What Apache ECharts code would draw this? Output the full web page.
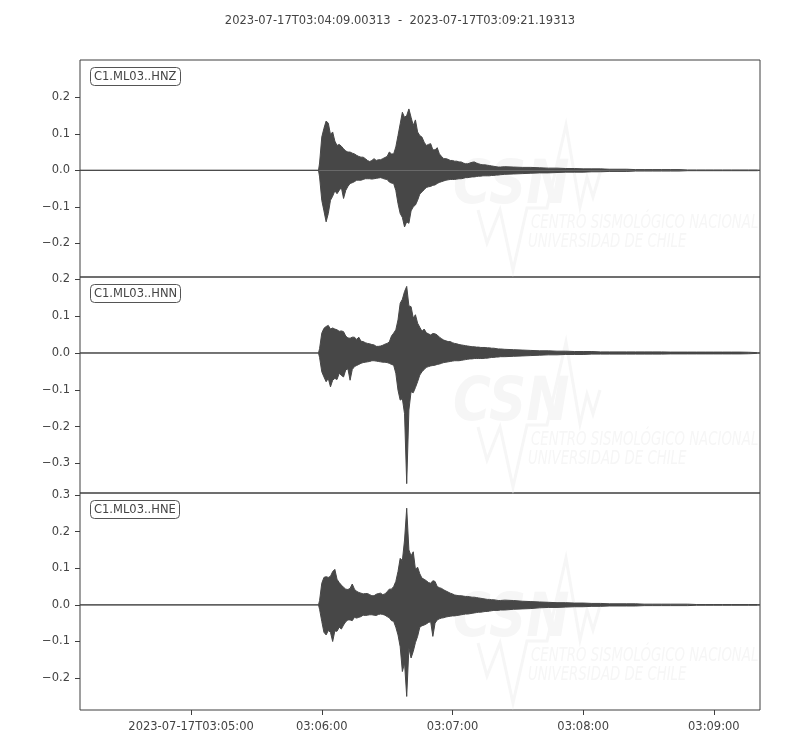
<!DOCTYPE html>
<html>
<head>
<meta charset="utf-8">
<script src="https://cdn.jsdelivr.net/npm/echarts@6/dist/echarts.min.js"></script>
<style>html,body{margin:0;padding:0;background:#fff;}#chart{width:800px;height:750px;}</style>
</head>
<body>
<div id="chart"></div>
<script>
// ---- data (seconds relative to 2023-07-17T03:06:00) ----
const titleText = '2023-07-17T03:04:09.00313  -  2023-07-17T03:09:21.19313';
const traceStartSec = -110.99687;
const traceEndSec = 201.19313;
const channelNames = ['C1.ML03..HNZ', 'C1.ML03..HNN', 'C1.ML03..HNE'];
const xTickSec = [-60, 0, 60, 120, 180];
const xTickLabels = ['2023-07-17T03:05:00', '03:06:00', '03:07:00', '03:08:00', '03:09:00'];
const yTicksZ = [-0.2, -0.1, 0.0, 0.1, 0.2];
const yTicksN = [-0.3, -0.2, -0.1, 0.0, 0.1, 0.2];
const yTicksE = [-0.2, -0.1, 0.0, 0.1, 0.2, 0.3];

// envelope sample times (s)
const sampleSec = [-1.5, -1,
  0, 1, 2, 3, 4, 5, 6, 7, 8, 9,
  10, 11, 12, 13, 14, 15, 16, 17, 18, 19,
  20, 21, 22, 23, 24, 25, 26, 27, 28, 29,
  30, 31, 32, 33, 34, 35, 36, 37, 38, 39,
  40, 41, 42, 43, 44, 45, 46, 47, 48, 49,
  50, 51, 52, 53, 54, 55, 56, 57, 58, 59,
  60, 61, 62, 63, 64, 65, 66, 67, 68, 69,
  70, 71, 72, 73, 74, 75, 76, 77, 78, 79,
  80, 81, 82,
  84, 88, 92, 96, 100, 104, 108, 112, 116, 120,
  124, 128, 132, 136, 140, 144, 148, 152, 156, 160,
  164, 168, 172, 176, 180, 184, 188, 192, 196, 200];

// HNZ envelope (upper / lower)
const upZ = [0, 0.020,
  0.091, 0.115, 0.135, 0.129, 0.098, 0.105, 0.080, 0.068, 0.071, 0.066,
  0.059, 0.053, 0.050, 0.050, 0.047, 0.045, 0.041, 0.038, 0.036, 0.036,
  0.032, 0.027, 0.024, 0.027, 0.032, 0.027, 0.029, 0.029, 0.032, 0.035,
  0.038, 0.050, 0.045, 0.045, 0.064, 0.095, 0.127, 0.159, 0.145, 0.150,
  0.168, 0.145, 0.123, 0.138, 0.105, 0.095, 0.091, 0.077, 0.068, 0.071,
  0.073, 0.056, 0.056, 0.062, 0.045, 0.038, 0.032, 0.032, 0.030, 0.027,
  0.027, 0.025, 0.025, 0.023, 0.023, 0.020, 0.018, 0.018, 0.020, 0.022,
  0.023, 0.020, 0.018, 0.016, 0.015, 0.015, 0.014, 0.013, 0.012, 0.011,
  0.010, 0.009, 0.009,
  0.010, 0.009, 0.008, 0.008, 0.007, 0.006, 0.006, 0.005, 0.005, 0.004,
  0.004, 0.004, 0.003, 0.003, 0.003, 0.002, 0.002, 0.002, 0.002, 0.002,
  0.002, 0.001, 0.001, 0.001, 0.001, 0.001, 0.001, 0.001, 0.001, 0.001];
const loZ = [0, -0.018,
  -0.082, -0.111, -0.141, -0.118, -0.082, -0.071, -0.056, -0.064, -0.055, -0.047,
  -0.077, -0.055, -0.044, -0.036, -0.034, -0.031, -0.027, -0.027, -0.027, -0.025,
  -0.023, -0.023, -0.023, -0.024, -0.023, -0.022, -0.021, -0.020, -0.022, -0.024,
  -0.025, -0.032, -0.035, -0.036, -0.055, -0.091, -0.118, -0.129, -0.155, -0.141,
  -0.145, -0.111, -0.100, -0.095, -0.082, -0.065, -0.059, -0.053, -0.047, -0.045,
  -0.044, -0.041, -0.040, -0.036, -0.033, -0.031, -0.029, -0.027, -0.026, -0.025,
  -0.025, -0.025, -0.024, -0.023, -0.023, -0.022, -0.020, -0.020, -0.019, -0.018,
  -0.018, -0.017, -0.016, -0.016, -0.015, -0.015, -0.015, -0.015, -0.014, -0.014,
  -0.013, -0.013, -0.012,
  -0.011, -0.010, -0.009, -0.008, -0.007, -0.007, -0.006, -0.005, -0.005, -0.005,
  -0.004, -0.004, -0.003, -0.003, -0.003, -0.002, -0.002, -0.002, -0.002, -0.002,
  -0.002, -0.001, -0.001, -0.001, -0.001, -0.001, -0.001, -0.001, -0.001, -0.001];

// HNN envelope
const upN = [0, 0.012,
  0.054, 0.067, 0.072, 0.075, 0.065, 0.068, 0.065, 0.063, 0.059, 0.060,
  0.058, 0.046, 0.041, 0.040, 0.043, 0.043, 0.037, 0.043, 0.032, 0.031,
  0.028, 0.026, 0.025, 0.023, 0.022, 0.018, 0.018, 0.019, 0.021, 0.024,
  0.026, 0.030, 0.046, 0.054, 0.063, 0.090, 0.135, 0.146, 0.167, 0.181,
  0.128, 0.126, 0.095, 0.104, 0.081, 0.070, 0.059, 0.065, 0.055, 0.052,
  0.049, 0.053, 0.052, 0.049, 0.043, 0.039, 0.035, 0.033, 0.031, 0.031,
  0.028, 0.026, 0.025, 0.023, 0.022, 0.021, 0.020, 0.019, 0.018, 0.017,
  0.017, 0.016, 0.016, 0.015, 0.015, 0.015, 0.014, 0.014, 0.013, 0.013,
  0.012, 0.011, 0.011,
  0.010, 0.009, 0.008, 0.007, 0.006, 0.006, 0.005, 0.005, 0.004, 0.004,
  0.004, 0.003, 0.003, 0.003, 0.003, 0.003, 0.003, 0.003, 0.003, 0.0025,
  0.0025, 0.0025, 0.0025, 0.0025, 0.0025, 0.0025, 0.0025, 0.0025, 0.002, 0.001];
const loN = [0, -0.012,
  -0.051, -0.065, -0.078, -0.069, -0.092, -0.074, -0.069, -0.072, -0.055, -0.061,
  -0.065, -0.046, -0.043, -0.074, -0.045, -0.037, -0.034, -0.031, -0.028, -0.026,
  -0.025, -0.024, -0.023, -0.021, -0.021, -0.022, -0.023, -0.024, -0.025, -0.025,
  -0.026, -0.028, -0.031, -0.033, -0.055, -0.101, -0.128, -0.124, -0.165, -0.355,
  -0.155, -0.105, -0.108, -0.094, -0.078, -0.060, -0.051, -0.045, -0.039, -0.037,
  -0.035, -0.034, -0.033, -0.031, -0.030, -0.028, -0.026, -0.025, -0.024, -0.023,
  -0.022, -0.021, -0.021, -0.021, -0.020, -0.019, -0.018, -0.017, -0.016, -0.016,
  -0.015, -0.015, -0.015, -0.015, -0.015, -0.014, -0.014, -0.013, -0.012, -0.012,
  -0.011, -0.011, -0.010,
  -0.010, -0.009, -0.008, -0.007, -0.006, -0.005, -0.005, -0.004, -0.004, -0.004,
  -0.003, -0.003, -0.003, -0.003, -0.003, -0.003, -0.003, -0.003, -0.003, -0.0025,
  -0.0025, -0.0025, -0.0025, -0.0025, -0.0025, -0.0025, -0.0025, -0.0025, -0.002, -0.001];

// HNE envelope
const upE = [0, 0.012,
  0.059, 0.075, 0.077, 0.075, 0.078, 0.091, 0.097, 0.070, 0.061, 0.054,
  0.048, 0.043, 0.042, 0.045, 0.057, 0.043, 0.037, 0.034, 0.032, 0.030,
  0.031, 0.031, 0.028, 0.025, 0.025, 0.029, 0.031, 0.032, 0.028, 0.030,
  0.036, 0.043, 0.043, 0.050, 0.064, 0.091, 0.127, 0.121, 0.177, 0.264,
  0.150, 0.134, 0.145, 0.097, 0.103, 0.085, 0.073, 0.070, 0.066, 0.061,
  0.059, 0.066, 0.064, 0.050, 0.047, 0.045, 0.041, 0.038, 0.035, 0.032,
  0.030, 0.027, 0.026, 0.025, 0.025, 0.024, 0.023, 0.023, 0.022, 0.021,
  0.021, 0.020, 0.019, 0.018, 0.017, 0.016, 0.015, 0.015, 0.014, 0.014,
  0.013, 0.012, 0.012,
  0.013, 0.012, 0.010, 0.009, 0.008, 0.007, 0.006, 0.006, 0.005, 0.005,
  0.004, 0.004, 0.003, 0.003, 0.003, 0.003, 0.002, 0.002, 0.002, 0.002,
  0.002, 0.002, 0.001, 0.001, 0.001, 0.001, 0.001, 0.001, 0.001, 0.001];
const loE = [0, -0.012,
  -0.045, -0.075, -0.082, -0.070, -0.075, -0.100, -0.071, -0.072, -0.061, -0.066,
  -0.055, -0.046, -0.041, -0.041, -0.043, -0.034, -0.036, -0.034, -0.032, -0.028,
  -0.029, -0.028, -0.027, -0.027, -0.028, -0.029, -0.026, -0.025, -0.026, -0.028,
  -0.032, -0.035, -0.043, -0.045, -0.061, -0.082, -0.114, -0.182, -0.159, -0.250,
  -0.118, -0.145, -0.127, -0.103, -0.086, -0.061, -0.057, -0.055, -0.052, -0.048,
  -0.046, -0.086, -0.050, -0.041, -0.038, -0.036, -0.035, -0.033, -0.032, -0.031,
  -0.030, -0.030, -0.029, -0.028, -0.027, -0.026, -0.025, -0.025, -0.024, -0.023,
  -0.022, -0.021, -0.020, -0.020, -0.019, -0.018, -0.018, -0.017, -0.016, -0.015,
  -0.015, -0.015, -0.014,
  -0.014, -0.012, -0.011, -0.010, -0.008, -0.007, -0.007, -0.006, -0.005, -0.005,
  -0.004, -0.004, -0.003, -0.003, -0.003, -0.003, -0.002, -0.002, -0.002, -0.002,
  -0.002, -0.002, -0.001, -0.001, -0.001, -0.001, -0.001, -0.001, -0.001, -0.001];

// ---- layout / style ----
const FONT = 'DejaVu Sans';
const TXT = '#444444';
const WAVE = '#474747';
const FRAME = '#3f3f3f';
const panelTop = [60, 277, 493];
const panelH = [217, 216, 217];
const yMin = [-0.292, -0.3804, -0.287];
const yMax = [0.302, 0.2065, 0.3055];
const yTicks = [yTicksZ, yTicksN, yTicksE];
const ups = [upZ, upN, upE];
const los = [loZ, loN, loE];

function build(vals) {
  const d = [[traceStartSec, 0]];
  for (let i = 0; i < sampleSec.length; i++) d.push([sampleSec[i], vals[i]]);
  d.push([traceEndSec, 0]);
  return d;
}
function yFmt(v) {
  const r = Math.round(v * 10) / 10;
  if (r < 0) return '\u2212' + Math.abs(r).toFixed(1);
  return Math.abs(r).toFixed(1);
}

const grids = [], xAxes = [], yAxes = [], series = [], titles = [], graphics = [];
titles.push({
  text: titleText, left: 'center', top: 15, padding: 0,
  textStyle: { fontFamily: FONT, fontSize: 11.5, fontWeight: 'normal', color: TXT }
});
const WMFONT = '"DejaVu Sans"';
for (let p = 0; p < 3; p++) {
  grids.push({ left: 80, width: 680, top: panelTop[p], height: panelH[p], show: true,
    borderColor: FRAME, borderWidth: 1, backgroundColor: 'transparent', containLabel: false });
  const last = p === 2;
  xAxes.push({
    type: 'value', gridIndex: p, min: traceStartSec, max: traceEndSec, position: 'bottom',
    axisLine: { show: false, onZero: false },
    splitLine: { show: false },
    axisTick: { show: last, customValues: xTickSec, length: 5, lineStyle: { color: FRAME } },
    axisLabel: { show: last, customValues: xTickSec, margin: 11,
      fontFamily: FONT, fontSize: 11.5, color: TXT,
      formatter: v => { const i = xTickSec.indexOf(Math.round(v)); return i >= 0 ? xTickLabels[i] : ''; } }
  });
  yAxes.push({
    type: 'value', gridIndex: p, min: yMin[p], max: yMax[p], position: 'left',
    axisLine: { show: false, onZero: false },
    splitLine: { show: false },
    axisTick: { show: true, customValues: yTicks[p], length: 5, lineStyle: { color: FRAME } },
    axisLabel: { show: true, customValues: yTicks[p], margin: 10,
      fontFamily: FONT, fontSize: 11.5, color: TXT, formatter: yFmt }
  });
  [ups[p], los[p]].forEach((vals, k) => {
    series.push({
      type: 'line', xAxisIndex: p, yAxisIndex: p, name: channelNames[p] + (k ? ' min' : ' max'),
      data: build(vals), showSymbol: false, symbol: 'none', silent: true,
      lineStyle: { color: WAVE, width: 1 },
      areaStyle: { color: WAVE, opacity: 1, origin: 0 },
      z: 3
    });
  });
  titles.push({
    text: channelNames[p], left: 90, top: panelTop[p] + 7, padding: [4, 4, 3, 4],
    borderColor: '#555555', borderWidth: 1, borderRadius: 4, backgroundColor: '#ffffff',
    textStyle: { fontFamily: FONT, fontSize: 11.5, fontWeight: 'normal', color: TXT }
  });
  const T = panelTop[p];
  const wm = '#f6f6f6';
  graphics.push({
    type: 'polyline', z: 1, silent: true,
    shape: { points: [[478, T + 150], [487, T + 183], [500, T + 150], [513, T + 210], [527, T + 148],
      [547, T + 148], [566, T + 65], [580, T + 147], [587, T + 117], [593, T + 137], [600, T + 113]] },
    style: { stroke: wm, lineWidth: 3, fill: null }
  });
  graphics.push({
    type: 'text', z: 1, silent: true, x: 453, y: T + 127, scaleX: 0.86,
    style: { text: 'CSN', fill: wm, font: 'italic bold 60px ' + WMFONT, verticalAlign: 'middle' }
  });
  graphics.push({
    type: 'text', z: 1, silent: true, x: 531, y: T + 163, scaleX: 0.7,
    style: { text: 'CENTRO SISMOLÓGICO NACIONAL', fill: wm, font: 'italic 19px ' + WMFONT, verticalAlign: 'middle' }
  });
  graphics.push({
    type: 'text', z: 1, silent: true, x: 528, y: T + 182, scaleX: 0.7,
    style: { text: 'UNIVERSIDAD DE CHILE', fill: wm, font: 'italic 19px ' + WMFONT, verticalAlign: 'middle' }
  });
}

const chart = echarts.init(document.getElementById('chart'), null, { renderer: 'canvas' });
chart.setOption({
  animation: false,
  backgroundColor: '#ffffff',
  title: titles,
  grid: grids,
  xAxis: xAxes,
  yAxis: yAxes,
  series: series,
  graphic: graphics
});
</script>
</body>
</html>
